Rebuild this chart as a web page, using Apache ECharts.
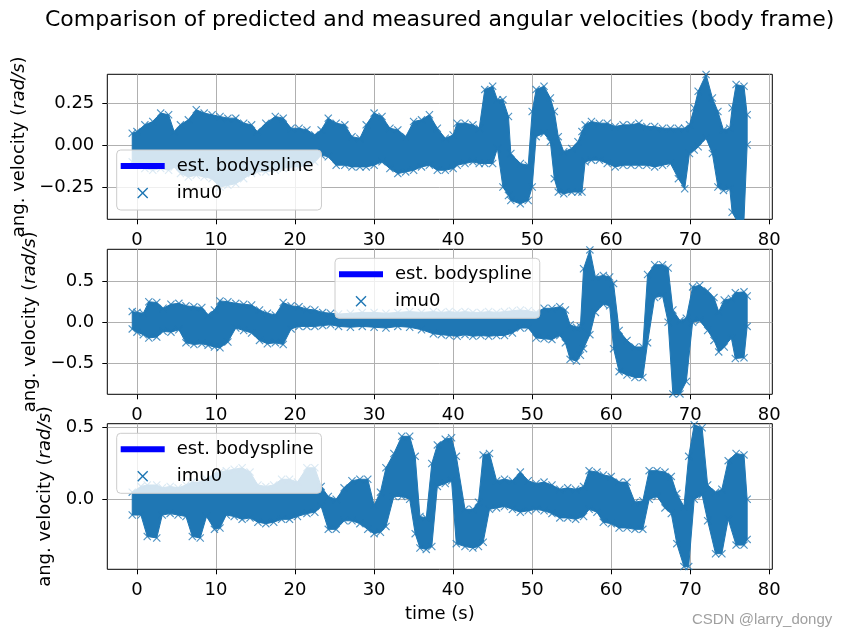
<!DOCTYPE html>
<html><head><meta charset="utf-8">
<script src="https://cdn.jsdelivr.net/npm/echarts@6/dist/echarts.min.js"></script>
<style>html,body{margin:0;padding:0;background:#fff}#c{width:853px;height:638px}</style>
</head><body><div id="c"></div>
<script>
// ---- tick values / labels ----
const xTicks = [0, 10, 20, 30, 40, 50, 60, 70, 80];
const xTickLabels = ['0', '10', '20', '30', '40', '50', '60', '70', '80'];
const yTicks1 = [-0.25, 0, 0.25];
const yTickLabels1 = ['\u22120.25', '0.00', '0.25'];
const yTicks2 = [-0.5, 0, 0.5];
const yTickLabels2 = ['\u22120.5', '0.0', '0.5'];
const yTicks3 = [0, 0.5];
const yTickLabels3 = ['0.0', '0.5'];

// ---- imu0 measurements: upper / lower envelope of the dense marker cloud ----
// subplot 1
const tA = [-0.6,0,1,2,3,4,4.7,5.5,6.5,7.5,8.5,9.5,10.5,11.5,12.5,13.5,14.5,15.2,16.3,17.5,18.5,19.5,20.5,21.5,22.5,23.3,24.2,25.2,26.3,27.2,28.2,29,30,31,32,33,34,35,36,37,38,39,40,40.5,41.5,42.5,43.3,44,45,45.6,46.3,47,47.3,48.5,49.5,50,50.5,51.5,52.3,52.8,53.3,54,55,55.8,56.3,56.7,57.5,58.5,59.5,60.5,61.5,62.5,63.5,64.5,65.5,66.5,67.5,68.5,69.3,69.9,70.5,71,72,72.8,73.5,74.2,75,75.3,75.8,76.8,77.2];
const hiA = [0.07,0.08,0.12,0.14,0.19,0.18,0.08,0.12,0.15,0.21,0.19,0.18,0.17,0.16,0.16,0.13,0.12,0.08,0.13,0.17,0.16,0.10,0.10,0.09,0.06,0.09,0.16,0.13,0.12,0.05,0.04,0.12,0.19,0.17,0.10,0.09,0.05,0.14,0.15,0.18,0.10,0.04,0.06,0.13,0.13,0.12,0.10,0.33,0.35,0.27,0.27,0.17,-0.05,-0.11,-0.12,0.20,0.33,0.35,0.28,0.20,0.05,-0.04,-0.02,0.02,0.08,0.12,0.14,0.13,0.13,0.11,0.12,0.12,0.13,0.11,0.11,0.10,0.10,0.10,0.10,0.12,0.22,0.32,0.42,0.28,0.20,0.09,0.10,0.22,0.36,0.35,0.18];
const loA = [-0.10,-0.12,-0.14,-0.15,-0.14,-0.15,-0.13,-0.17,-0.19,-0.18,-0.19,-0.20,-0.25,-0.24,-0.23,-0.20,-0.17,-0.16,-0.16,-0.15,-0.14,-0.13,-0.13,-0.12,-0.10,-0.06,-0.07,-0.12,-0.12,-0.13,-0.13,-0.13,-0.12,-0.10,-0.14,-0.17,-0.16,-0.15,-0.13,-0.12,-0.15,-0.15,-0.14,-0.12,-0.11,-0.10,-0.11,-0.11,-0.11,-0.02,-0.25,-0.30,-0.33,-0.35,-0.33,-0.25,0.05,0.07,0.02,-0.20,-0.28,-0.29,-0.28,-0.28,-0.28,-0.10,-0.09,-0.09,-0.11,-0.13,-0.12,-0.12,-0.12,-0.12,-0.13,-0.12,-0.11,-0.20,-0.26,-0.05,-0.03,-0.01,0.04,-0.05,-0.25,-0.27,-0.26,-0.40,-0.45,-0.45,0.00];
// subplot 2
const tB = [-0.6,0,0.8,1.5,2.5,3.3,4.3,5.3,6.2,7.2,8.2,9,9.8,10.5,11.5,12.5,13.5,14.5,15.5,16.5,17.5,18.5,19.5,20.5,21.5,22.5,23.5,24.5,25.5,27,28.5,30,31.5,33,34.5,36,37.5,38.5,39.5,40.5,41.5,42.5,43.5,44.5,45.5,46.5,47.5,48.5,49.5,50.5,51.5,52.5,53.5,54.2,54.8,55.6,56.1,56.5,57.3,58,59,59.8,60.3,61,62,63,64,64.6,65.5,66.5,67.2,67.8,68.7,69.5,70.3,71.2,72.2,73,73.6,74.3,75.2,75.7,76.8,77.2];
const hiB = [0.13,0.12,0.11,0.25,0.24,0.17,0.22,0.23,0.20,0.19,0.18,0.09,0.15,0.26,0.25,0.23,0.22,0.21,0.15,0.11,0.09,0.24,0.20,0.19,0.16,0.15,0.12,0.11,0.10,0.11,0.12,0.12,0.11,0.12,0.13,0.12,0.13,0.12,0.13,0.12,0.13,0.12,0.12,0.13,0.12,0.13,0.14,0.15,0.14,0.12,0.17,0.17,0.19,0.15,-0.03,-0.06,-0.05,0.65,0.88,0.55,0.57,0.55,0.47,-0.10,-0.22,-0.30,-0.30,0.58,0.70,0.70,0.66,0.15,0.02,0.05,0.43,0.45,0.38,0.30,0.13,0.27,0.29,0.36,0.37,0.32];
const loB = [-0.08,-0.12,-0.15,-0.19,-0.18,-0.11,-0.12,-0.09,-0.25,-0.27,-0.26,-0.28,-0.30,-0.31,-0.24,-0.07,-0.10,-0.13,-0.22,-0.26,-0.25,-0.27,-0.08,-0.05,-0.05,-0.05,-0.04,-0.03,-0.05,-0.06,-0.05,-0.06,-0.07,-0.05,-0.06,-0.09,-0.14,-0.15,-0.16,-0.17,-0.15,-0.17,-0.16,-0.17,-0.16,-0.16,-0.13,-0.07,-0.07,-0.19,-0.20,-0.21,-0.16,-0.25,-0.45,-0.47,-0.40,-0.32,-0.15,0.12,0.22,0.20,-0.32,-0.60,-0.64,-0.67,-0.67,-0.25,0.30,0.32,0.00,-0.87,-0.87,-0.72,0.00,0.02,-0.10,-0.22,-0.36,-0.30,-0.19,-0.44,-0.43,-0.05];
// subplot 3
const tC = [-0.6,0.5,1.3,2.5,3.2,4.2,5.2,6.2,7,8,8.8,9.8,10.5,11.3,12.3,13.3,14.3,15.3,16.3,17.3,18.3,19.3,20.3,21.5,22.5,23.3,24.2,25.2,26.2,27.2,28.2,29.2,30,30.8,31.5,32.5,33.5,34.5,35.2,35.8,36.6,37.3,38,39,39.8,40.4,41.5,42.5,43.2,43.8,44.6,45.5,46.5,47.5,48.5,49.5,50.5,51.5,52.5,53.5,54.5,55.5,56.5,57.2,58.2,59,60,61,62,63,64,64.8,65.8,66.8,67.6,68.3,69.2,69.8,70.5,71.5,72.2,73.2,74,74.8,75.8,76.8,77.2];
const hiC = [0.05,0.09,0.10,0.10,0.08,0.09,0.08,0.10,0.12,0.12,0.14,0.18,0.19,0.20,0.21,0.22,0.19,0.10,0.09,0.10,0.14,0.14,0.12,0.22,0.22,0.09,0.02,0.00,0.08,0.13,0.14,0.14,-0.04,0.05,0.22,0.32,0.44,0.44,0.30,-0.12,-0.13,0.25,0.38,0.42,0.43,0.30,-0.07,-0.07,-0.02,0.31,0.32,0.13,0.14,0.13,0.19,0.13,0.11,0.12,0.10,0.07,0.08,0.07,0.09,0.20,0.19,0.17,0.16,0.12,0.12,-0.02,-0.01,0.20,0.20,0.19,0.16,0.04,-0.05,0.30,0.52,0.50,0.10,0.05,0.07,0.27,0.32,0.31,0.00];
const loC = [-0.11,-0.11,-0.26,-0.27,-0.11,-0.10,-0.11,-0.12,-0.26,-0.27,-0.12,-0.21,-0.20,-0.11,-0.12,-0.14,-0.13,-0.16,-0.17,-0.16,-0.14,-0.14,-0.12,-0.10,-0.09,-0.05,-0.21,-0.21,-0.15,-0.15,-0.17,-0.21,-0.24,-0.23,-0.19,0.02,0.02,0.00,-0.24,-0.34,-0.35,-0.33,0.09,0.11,0.13,-0.31,-0.33,-0.34,-0.33,-0.30,-0.07,-0.06,-0.05,-0.07,-0.09,-0.08,-0.07,-0.08,-0.10,-0.13,-0.13,-0.14,-0.12,-0.07,-0.09,-0.16,-0.17,-0.20,-0.20,-0.21,-0.21,0.00,0.02,-0.06,-0.10,-0.31,-0.47,-0.47,0.00,0.03,-0.15,-0.38,-0.38,-0.14,-0.32,-0.32,-0.28];

const titleText = 'Comparison of predicted and measured angular velocities (body frame)';
const FONT = 'DejaVu Sans';
const IMU = '#1f77b4', SPL = '#0000ff';

const chart = echarts.init(document.getElementById('c'), null, {renderer: 'canvas'});

const grids = [
  {left: 107.3, top: 74.3, width: 665, height: 145},
  {left: 107.3, top: 249.3, width: 665, height: 145},
  {left: 107.3, top: 423.7, width: 665, height: 145.6}
];
const yRanges = [[-0.442, 0.421], [-0.875, 0.887], [-0.489, 0.528]];
const yTickSets = [[yTicks1, yTickLabels1], [yTicks2, yTickLabels2], [yTicks3, yTickLabels3]];
const nameGaps = [76, 66, 51];
const sets = [[tA, hiA, loA], [tB, hiB, loB], [tC, hiC, loC]];

function fmt(ticks, labels) {
  return function (v) {
    for (let i = 0; i < ticks.length; i++) if (Math.abs(ticks[i] - v) < 1e-9) return labels[i];
    return '';
  };
}

const xAxes = [], yAxes = [], series = [], legends = [];
const xIcon = 'path://M0,0 M20,20 M4.5,5.5 L5.5,4.5 L10,9 L14.5,4.5 L15.5,5.5 L11,10 L15.5,14.5 L14.5,15.5 L10,11 L5.5,15.5 L4.5,14.5 L9,10 Z';
const lineIcon = 'path://M0,0 M44,20 M0,7 L44,7 L44,13 L0,13 Z';
const xMarker = 'path://M1,0 L5,4 L9,0 L10,1 L6,5 L10,9 L9,10 L5,6 L1,10 L0,9 L4,5 L0,1 Z';
const legendPos = [{left: 116.7, top: 150}, {left: 335, top: 258.3}, {left: 116.7, top: 433.3}];

for (let k = 0; k < 3; k++) {
  xAxes.push({
    gridIndex: k, type: 'value', min: -3.755, max: 80.38, position: 'bottom',
    axisLine: {show: false, onZero: false},
    axisTick: {show: true, inside: false, length: 5, customValues: xTicks, lineStyle: {color: '#000', width: 1}},
    axisLabel: {customValues: xTicks, formatter: fmt(xTicks, xTickLabels), color: '#000', fontSize: 18, fontFamily: FONT, margin: 12},
    splitLine: {show: true, lineStyle: {color: '#b0b0b0', width: 1}},
    name: k === 2 ? 'time (s)' : '', nameLocation: 'middle', nameGap: 36,
    nameTextStyle: {fontSize: 18, fontFamily: FONT, color: '#000'}
  });
  const [yt, yl] = yTickSets[k];
  yAxes.push({
    gridIndex: k, type: 'value', min: yRanges[k][0], max: yRanges[k][1], position: 'left',
    axisLine: {show: false, onZero: false},
    axisTick: {show: true, inside: false, length: 5, customValues: yt, lineStyle: {color: '#000', width: 1}},
    axisLabel: {customValues: yt, formatter: fmt(yt, yl), color: '#000', fontSize: 18, fontFamily: FONT, margin: 13},
    splitLine: {show: true, lineStyle: {color: '#b0b0b0', width: 1}},
    name: 'ang. velocity ({i|rad/s})', nameLocation: 'middle', nameRotate: 90, nameGap: nameGaps[k],
    nameTextStyle: {fontSize: 18, fontFamily: FONT, color: '#000',
      rich: {i: {fontStyle: 'italic', fontSize: 18, fontFamily: FONT, color: '#000'}}}
  });
  const [t, hi, lo] = sets[k];
  series.push({
    name: 'est. bodyspline', type: 'line', xAxisIndex: k, yAxisIndex: k,
    data: [], showSymbol: false, color: SPL, lineStyle: {color: SPL, width: 2}, z: 1
  });
  series.push({
    name: 'imu0', type: 'custom', xAxisIndex: k, yAxisIndex: k, color: IMU, z: 2,
    data: [[t[0], hi[0]]], silent: true,
    renderItem: (function (t, hi, lo) {
      return function (params, api) {
        const cs = params.coordSys;
        const clamp = p => [Math.min(Math.max(p[0], cs.x), cs.x + cs.width), Math.min(Math.max(p[1], cs.y), cs.y + cs.height)];
        const pts = [];
        for (let i = 0; i < t.length; i++) pts.push(clamp(api.coord([t[i], hi[i]])));
        for (let i = t.length - 1; i >= 0; i--) pts.push(clamp(api.coord([t[i], lo[i]])));
        return {type: 'polygon', shape: {points: pts}, style: {fill: IMU, stroke: IMU, lineWidth: 1}};
      };
    })(t, hi, lo)
  });
  const marks = [];
  for (let i = 0; i < t.length; i++) { marks.push([t[i], hi[i]]); marks.push([t[i], lo[i]]); }
  series.push({
    name: 'imu0', type: 'scatter', xAxisIndex: k, yAxisIndex: k, color: IMU, z: 3,
    symbol: xMarker, symbolSize: 8, data: marks, silent: true, itemStyle: {color: IMU}
  });
  legends.push(Object.assign({
    orient: 'vertical', selectedMode: false,
    backgroundColor: 'rgba(255,255,255,0.8)', borderColor: '#cccccc', borderWidth: 1, borderRadius: 4,
    padding: [6, 8, 7, 4], itemWidth: 44, itemHeight: 20, itemGap: 7,
    itemStyle: {borderWidth: 0},
    textStyle: {fontSize: 18, fontFamily: FONT, color: '#000', padding: [0, 0, 0, 7]},
    data: [{name: 'est. bodyspline', icon: lineIcon}, {name: 'imu0', icon: xIcon}]
  }, legendPos[k]));
}

chart.setOption({
  animation: false,
  backgroundColor: '#fff',
  title: {text: titleText, left: 45, top: 9, padding: 0, textStyle: {fontSize: 22, fontWeight: 'normal', fontFamily: FONT, color: '#000'}},
  grid: grids.map(g => Object.assign({show: true, borderColor: '#000', borderWidth: 1, backgroundColor: 'transparent'}, g)),
  xAxis: xAxes, yAxis: yAxes, legend: legends, series: series,
  graphic: [{type: 'text', left: 692, top: 612, silent: true,
    style: {text: 'CSDN @larry_dongy', fill: '#a0a0a0', font: '15px "Liberation Sans"'}}]
});
</script></body></html>
